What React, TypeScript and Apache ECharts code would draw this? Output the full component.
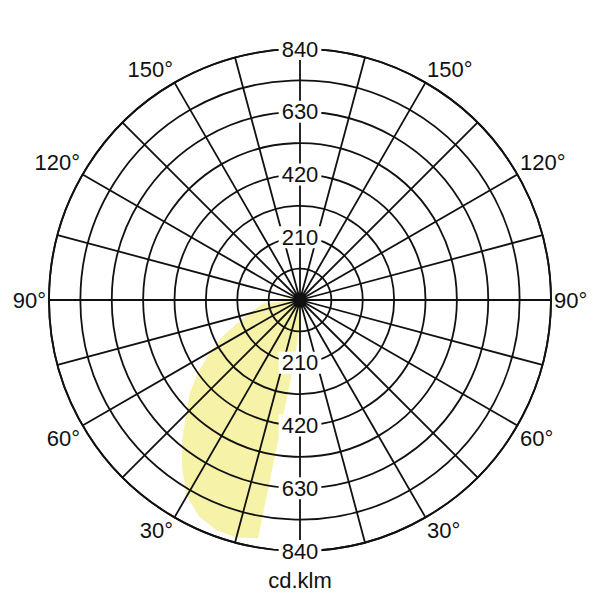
import { useEffect, useRef } from 'react'
import * as echarts from 'echarts'

// luminous intensity distribution, gamma angle (deg from nadir) -> cd/klm
const gammaAngles = [0, 5, 10, 15, 20, 25, 30, 35, 40, 45, 50, 55, 60, 65, 70, 75, 80, 85, 90]
const intensity = [66, 200, 810, 823, 819, 799, 757, 688, 614, 538, 481, 414, 345, 282, 222, 173, 145, 123, 0]

const radiusLabels = [210, 420, 630, 840]
const angleLabels = [30, 60, 90, 120, 150]
const unitLabel = 'cd.klm'

const ink = '#111111'
const fill = '#f6f2a8'
const font = '"Liberation Sans", Arial, sans-serif'

export default function App() {
  const ref = useRef<HTMLDivElement | null>(null)

  useEffect(() => {
    if (!ref.current) return
    const chart = echarts.init(ref.current, undefined, { renderer: 'svg' })

    const radiusLabel = {
      margin: 0,
      align: 'center',
      verticalAlign: 'middle',
      fontSize: 22,
      fontFamily: font,
      color: ink,
      backgroundColor: '#ffffff',
      padding: [0, 3],
      formatter: (v: number) => (radiusLabels.includes(v) ? String(v) : '')
    }

    chart.setOption({
      animation: false,
      backgroundColor: '#ffffff',
      title: {
        text: unitLabel,
        left: 'center',
        top: 564,
        textStyle: { fontSize: 22, fontWeight: 'normal', color: ink, fontFamily: font }
      },
      polar: [
        { center: ['50%', '50%'], radius: 251 },
        { center: ['50%', '50%'], radius: 251 }
      ],
      angleAxis: [
        {
          polarIndex: 0,
          type: 'value',
          min: 0,
          max: 360,
          interval: 15,
          startAngle: -90,
          clockwise: true,
          z: 3,
          axisLine: { lineStyle: { color: ink, width: 1.8 } },
          axisTick: { show: false },
          splitLine: { show: true, lineStyle: { color: ink, width: 1.8 } },
          axisLabel: {
            margin: 3,
            fontSize: 22,
            fontFamily: font,
            color: ink,
            formatter: (v: number) => {
              const g = v <= 180 ? v : 360 - v
              return angleLabels.includes(g) ? g + '°' : ''
            }
          }
        },
        {
          polarIndex: 1,
          type: 'value',
          min: 0,
          max: 360,
          startAngle: 90,
          show: false
        }
      ],
      radiusAxis: [
        {
          polarIndex: 0,
          type: 'value',
          min: 0,
          max: 840,
          interval: 105,
          z: 4,
          axisLine: { show: false },
          axisTick: { show: false },
          splitLine: { show: true, lineStyle: { color: ink, width: 1.8 } },
          axisLabel: radiusLabel
        },
        {
          polarIndex: 1,
          type: 'value',
          min: 0,
          max: 840,
          interval: 105,
          z: 5,
          axisLine: { show: false },
          axisTick: { show: false },
          splitLine: { show: false },
          axisLabel: radiusLabel
        }
      ],
      series: [
        {
          type: 'line',
          coordinateSystem: 'polar',
          polarIndex: 0,
          z: 1,
          showSymbol: false,
          symbol: 'none',
          lineStyle: { opacity: 0 },
          areaStyle: { color: fill, opacity: 1 },
          data: gammaAngles.map((a, i) => [intensity[i], a])
        }
      ]
    })

    return () => chart.dispose()
  }, [])

  return <div ref={ref} style={{ position: 'fixed', left: 0, top: 0, width: 600, height: 600 }} />
}
